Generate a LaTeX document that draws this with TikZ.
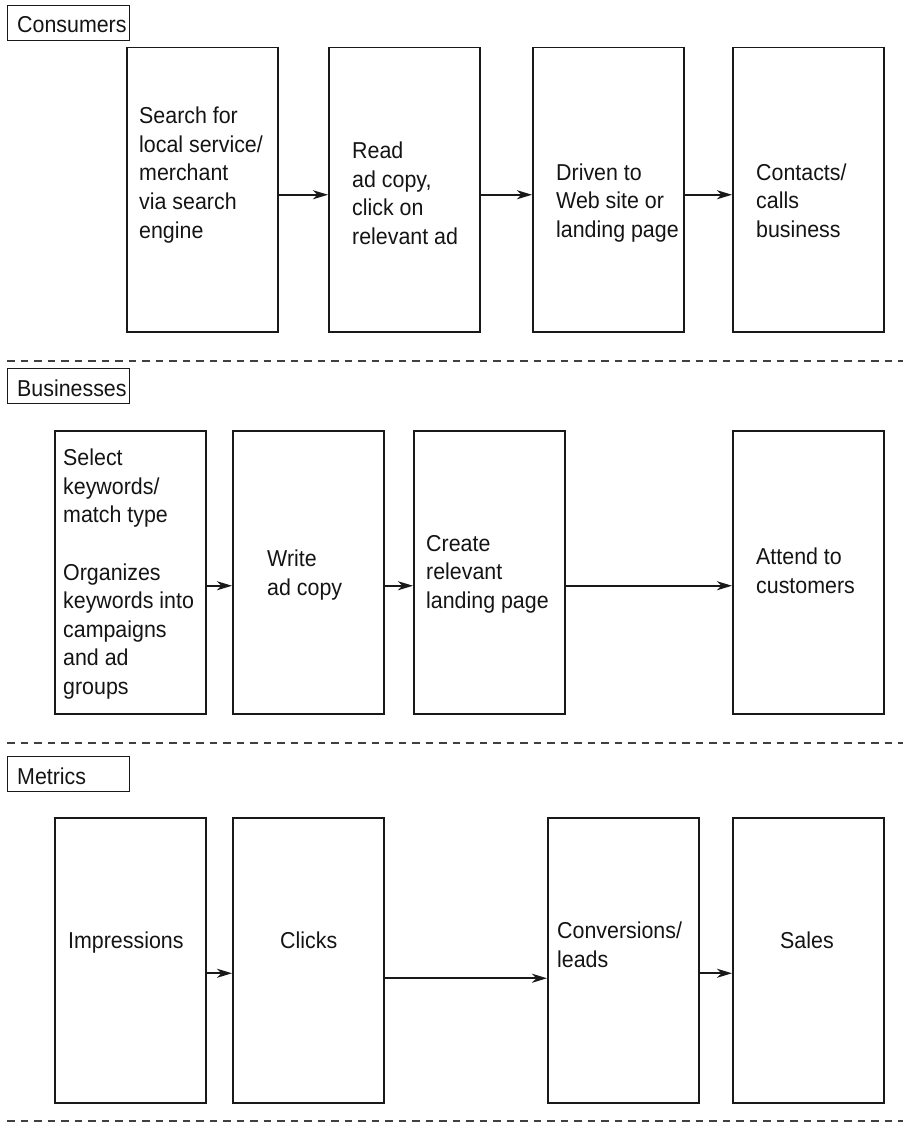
\documentclass[tikz,border=0pt]{standalone}
\usepackage{fontspec}
\setmainfont{Liberation Sans}[FakeStretch=0.93]
\usetikzlibrary{arrows.meta}
\begin{document}
\begin{tikzpicture}[x=1pt,y=-1pt,
  stage/.style={draw=black!90, line width=1.5pt, inner sep=0pt, anchor=north west,
    minimum width=151pt},
  tagbox/.style={draw=black!90, line width=1.2pt, inner sep=0pt, anchor=north west,
    minimum width=122pt, minimum height=35pt},
  % multi-line texts are placed by the baseline of their last line
  txt/.style={inner sep=0pt, anchor=base west, align=left,
    font=\fontsize{23}{28.5}\selectfont, text=black!92},
  flow/.style={draw=black!90, line width=1.6pt,
    -{Stealth[length=15pt,width=9pt,inset=4.5pt]}},
  sep/.style={draw=black!75, line width=1.2pt, dash pattern=on 7.5pt off 6pt}]

\useasboundingbox (0,0) rectangle (903,1123);

% ---------- Consumers ----------
\node[tagbox] (lc) at (7,5) {};
\node[txt] (lct) at ([xshift=10pt,yshift=-28pt]lc.north west) {Consumers};

\node[stage, minimum height=284pt] (c1) at (126,47) {};
\node[stage, minimum height=284pt] (c2) at (328,47) {};
\node[stage, minimum height=284pt] (c3) at (532,47) {};
\node[stage, minimum height=284pt] (c4) at (732,47) {};

\node[txt] (c1t) at (139,238) {Search for\\local service/\\merchant\\via search\\engine};
\node[txt] (c2t) at (352,244) {Read\\ad copy,\\click on\\relevant ad};
\node[txt] (c3t) at (556,237) {Driven to\\Web site or\\landing page};
\node[txt] (c4t) at (756,237) {Contacts/\\calls\\business};

\draw[flow] ([yshift=-5pt]c1.east) -- ([yshift=-5pt]c2.west);
\draw[flow] ([yshift=-5pt]c2.east) -- ([yshift=-5pt]c3.west);
\draw[flow] ([yshift=-5pt]c3.east) -- ([yshift=-5pt]c4.west);

\draw[sep] (7,361) -- (903,361);

% ---------- Businesses ----------
\node[tagbox] (lb) at (7,368) {};
\node[txt] (lbt) at ([xshift=10pt,yshift=-28pt]lb.north west) {Businesses};

\node[stage, minimum height=283pt] (b1) at (54,430) {};
\node[stage, minimum height=283pt] (b2) at (232,430) {};
\node[stage, minimum height=283pt] (b3) at (413,430) {};
\node[stage, minimum height=283pt] (b4) at (732,430) {};

\node[txt] (b1t) at (63,694) {Select\\keywords/\\match type\\[29pt]Organizes\\keywords into\\campaigns\\and ad\\groups};
\node[txt] (b2t) at (267,595) {Write\\ad copy};
\node[txt] (b3t) at (426,608) {Create\\relevant\\landing page};
\node[txt] (b4t) at (756,593) {Attend to\\customers};

\draw[flow] ([yshift=-13.5pt]b1.east) -- ([yshift=-13.5pt]b2.west);
\draw[flow] ([yshift=-13.5pt]b2.east) -- ([yshift=-13.5pt]b3.west);
\draw[flow] ([yshift=-13.5pt]b3.east) -- ([yshift=-13.5pt]b4.west);

\draw[sep] (7,743) -- (903,743);

% ---------- Metrics ----------
\node[tagbox] (lm) at (7,756) {};
\node[txt] (lmt) at ([xshift=10pt,yshift=-28pt]lm.north west) {Metrics};

\node[stage, minimum height=285pt] (m1) at (54,817) {};
\node[stage, minimum height=285pt] (m2) at (232,817) {};
\node[stage, minimum height=285pt] (m3) at (547,817) {};
\node[stage, minimum height=285pt] (m4) at (732,817) {};

\node[txt] (m1t) at (68,948) {Impressions};
\node[txt] (m2t) at (280,948) {Clicks};
\node[txt] (m3t) at (557,967) {Conversions/\\leads};
\node[txt] (m4t) at (780,948) {Sales};

\draw[flow] ([yshift=-13pt]m1.east) -- ([yshift=-13pt]m2.west);
\draw[flow] ([yshift=-18pt]m2.east) -- ([yshift=-18pt]m3.west);
\draw[flow] ([yshift=-13pt]m3.east) -- ([yshift=-13pt]m4.west);

\draw[sep] (7,1121) -- (903,1121);

\end{tikzpicture}
\end{document}
